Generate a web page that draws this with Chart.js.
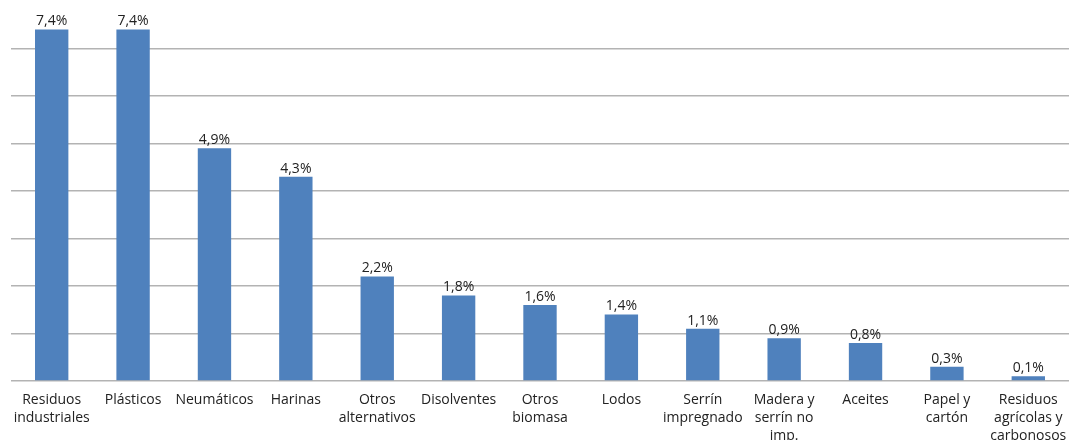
<!DOCTYPE html>
<html>
<head>
<meta charset="utf-8">
<script src="https://cdn.jsdelivr.net/npm/chart.js@4"></script>
<style>
  html, body { margin: 0; padding: 0; background: #fff; }
  #wrap { width: 1069px; height: 440px; }
</style>
</head>
<body>
<div id="wrap"><canvas id="myChart"></canvas></div>
<script>
const categories = [
  ['Residuos', 'industriales'],
  'Plásticos',
  'Neumáticos',
  'Harinas',
  ['Otros', 'alternativos'],
  'Disolventes',
  ['Otros', 'biomasa'],
  'Lodos',
  ['Serrín', 'impregnado'],
  ['Madera y', 'serrín no', 'imp.'],
  'Aceites',
  ['Papel y', 'cartón'],
  ['Residuos', 'agrícolas y', 'carbonosos']
];
const values = [7.4, 7.4, 4.9, 4.3, 2.2, 1.8, 1.6, 1.4, 1.1, 0.9, 0.8, 0.3, 0.1];

const ctx = document.getElementById('myChart').getContext('2d');
const fontFamily = '"Open Sans", "DejaVu Sans", sans-serif';

const config = {
  type: 'bar',
  data: {
    labels: categories,
    datasets: [{
      data: values,
      backgroundColor: '#4F81BD',
      categoryPercentage: 1,
      barPercentage: 0.41
    }]
  },
  options: {
    responsive: true,
    maintainAspectRatio: false,
    animation: false,
    layout: {
      padding: { left: 11, top: 1, right: 0, bottom: 0 }
    },
    plugins: {
      legend: { display: false },
      tooltip: { enabled: false }
    },
    scales: {
      x: {
        grid: { display: false },
        border: { display: false },
        afterFit: (scale) => { scale.height = 59; },
        ticks: {
          color: '#222',
          font: { family: fontFamily, size: 14, lineHeight: 1.3 },
          maxRotation: 0,
          autoSkip: false,
          padding: 2
        }
      },
      y: {
        min: 0,
        max: 8,
        border: { display: false },
        grid: {
          color: (c) => c.tick && c.tick.value === 8 ? 'rgba(0,0,0,0)' : '#B3B3B3',
          lineWidth: 1.5,
          drawTicks: false
        },
        ticks: { display: false, stepSize: 1 }
      }
    }
  },
  plugins: [{
    afterDatasetsDraw(chart) {
      const {ctx} = chart;
      chart.getDatasetMeta(0).data.forEach((bar, i) => {
        ctx.save();
        ctx.fillStyle = '#222';
        ctx.font = '14px ' + fontFamily;
        ctx.textAlign = 'center';
        ctx.textBaseline = 'bottom';
        ctx.fillText(values[i].toFixed(1).replace('.', ',') + '%', bar.x, bar.y - 1);
        ctx.restore();
      });
    }
  }]
};

const myChart = new Chart(ctx, config);
</script>
</body>
</html>
